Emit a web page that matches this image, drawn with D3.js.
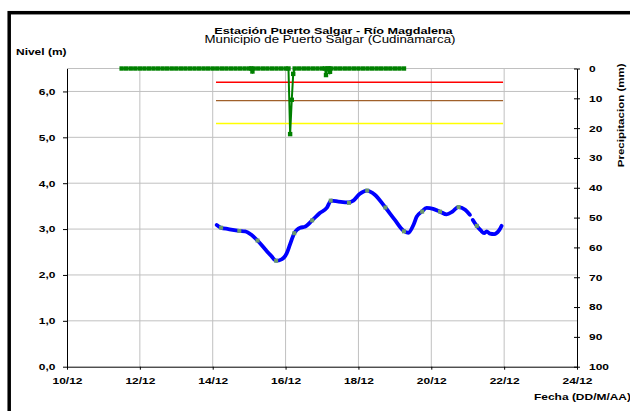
<!DOCTYPE html>
<html>
<head>
<meta charset="utf-8">
<script src="https://cdn.jsdelivr.net/npm/d3@7"></script>
<style>
body { margin: 0; background: #fff; }
svg { display: block; font-family: "Liberation Sans", Arial, sans-serif; }
</style>
</head>
<body>
<div id="chart"></div>
<script>
// ticks
var dateTicks = [10, 12, 14, 16, 18, 20, 22, 24];
var levelTicks = [0, 1, 2, 3, 4, 5, 6];
var rainTicks = [0, 10, 20, 30, 40, 50, 60, 70, 80, 90, 100];

// river level (day of December, metres) - null = gap in record
var levelDays = [14.11, 14.23, 14.43, 14.73, 14.89, 15.07, 15.23, 15.44, 15.60, 15.74, 15.89, 16.03, 16.12, 16.24,
  16.40, 16.53, 16.73, 16.94, 17.13, 17.25, 17.45, 17.72, 17.86, 18.04, 18.23, 18.45, 18.73, 19.00, 19.23, 19.37,
  19.51, 19.60, 19.74, 19.87, 20.05, 20.24, 20.42, 20.58, 20.74, 20.93, 21.06, 21.10, 21.14, 21.25, 21.36, 21.45,
  21.52, 21.61, 21.73, 21.86, 21.93];
var levelVals = [3.09, 3.03, 3.00, 2.96, 2.95, 2.87, 2.75, 2.56, 2.42, 2.31, 2.34, 2.47, 2.66, 2.91,
  3.03, 3.05, 3.19, 3.35, 3.46, 3.62, 3.60, 3.58, 3.62, 3.77, 3.84, 3.75, 3.48, 3.20, 2.97, 2.92,
  3.09, 3.27, 3.38, 3.46, 3.44, 3.38, 3.32, 3.38, 3.48, 3.42, 3.31, null, 3.20, 3.07, 2.97, 2.91,
  2.95, 2.90, 2.89, 2.97, 3.07];

// twice-daily readings
var readDays = [14.23, 14.73, 15.23, 15.74, 16.24, 16.73, 17.24, 17.74, 18.24, 18.74, 19.25, 19.75, 20.24, 20.75, 21.25];
var readVals = [3.03, 2.96, 2.75, 2.31, 2.91, 3.19, 3.62, 3.57, 3.84, 3.47, 2.95, 3.38, 3.38, 3.48, 3.07];

// precipitation (day of December, mm)
var rainDays = [11.5, 11.625, 11.75, 11.875, 12, 12.125, 12.25, 12.375, 12.5, 12.625, 12.75, 12.875,
  13, 13.125, 13.25, 13.375, 13.5, 13.625, 13.75, 13.875, 14, 14.125, 14.25, 14.375, 14.5, 14.625, 14.75, 14.875,
  15, 15.06, 15.09, 15.125, 15.25, 15.375, 15.5, 15.625, 15.75, 15.875, 16, 16.08, 16.125, 16.17, 16.21, 16.25,
  16.375, 16.5, 16.625, 16.75, 16.875, 17, 17.08, 17.11, 17.15, 17.2, 17.22, 17.25, 17.375, 17.5, 17.625, 17.75,
  17.875, 18, 18.125, 18.25, 18.375, 18.5, 18.625, 18.75, 18.875, 19, 19.125, 19.25];
var rainMm = [0, 0, 0, 0, 0, 0, 0, 0, 0, 0, 0, 0,
  0, 0, 0, 0, 0, 0, 0, 0, 0, 0, 0, 0, 0, 0, 0, 0,
  0, 0, 1.0, 0, 0, 0, 0, 0, 0, 0, 0, 0, 22, 10.5, 1.8, 0,
  0, 0, 0, 0, 0, 0, 0, 2.2, 0, 0, 1.1, 0, 0, 0, 0, 0,
  0, 0, 0, 0, 0, 0, 0, 0, 0, 0, 0, 0];

// alert levels (m)
var alertVals = [6.2, 5.8, 5.3];
var alertColors = ["#ff0000", "#a0602a", "#ffff00"];
var alertSpan = [14.09, 21.97];

var W = 630, H = 411, SX = 1.33;
var pL = 67, pR = 577, pT = 68.5, pB = 366.7;

var svg = d3.select("#chart").append("svg").attr("width", W).attr("height", H);

var x = d3.scaleLinear().domain([10, 24]).range([pL, pR]);
var yL = d3.scaleLinear().domain([0, 6.5]).range([pB, pT]);
var yR = d3.scaleLinear().domain([0, 100]).range([pT, pB]);

var comma = function(d){ return d3.format(".1f")(d).replace(".", ","); };

// grid
var grid = svg.append("g").attr("stroke", "#c0c0c0").attr("stroke-width", 1);
grid.selectAll(".h").data(levelTicks.slice(1).concat([6.5])).enter().append("line")
    .attr("x1", pL).attr("x2", pR)
    .attr("y1", function(d){ return yL(d); }).attr("y2", function(d){ return yL(d); });
grid.selectAll(".v").data(dateTicks.slice(1, -1)).enter().append("line")
    .attr("y1", pT).attr("y2", pB)
    .attr("x1", function(d){ return x(d); }).attr("x2", function(d){ return x(d); });

// alert lines
svg.selectAll(".alert").data(alertVals).enter().append("line")
    .attr("x1", x(alertSpan[0])).attr("x2", x(alertSpan[1]))
    .attr("y1", function(d){ return yL(d); }).attr("y2", function(d){ return yL(d); })
    .attr("stroke", function(d, i){ return alertColors[i]; })
    .attr("stroke-width", 1.4);

// precipitation
var rain = rainDays.map(function(d, i){ return [d, rainMm[i]]; });
svg.append("path").datum(rain)
    .attr("d", d3.line().x(function(d){ return x(d[0]); }).y(function(d){ return yR(d[1]); }))
    .attr("fill", "none").attr("stroke", "#008000").attr("stroke-width", 2);
svg.selectAll(".rp").data(rain).enter().append("rect")
    .attr("x", function(d){ return x(d[0]) - 2.2; })
    .attr("y", function(d){ return yR(d[1]) - 2.2; })
    .attr("width", 4.4).attr("height", 4.4)
    .attr("fill", "#008000");

// level
var level = levelDays.map(function(d, i){ return [d, levelVals[i]]; });
svg.append("path").datum(level)
    .attr("d", d3.line().defined(function(d){ return d[1] != null; })
        .x(function(d){ return x(d[0]); }).y(function(d){ return yL(d[1]); })
        .curve(d3.curveMonotoneX))
    .attr("fill", "none").attr("stroke", "#0000ff").attr("stroke-width", 3.8)
    .attr("stroke-linecap", "round").attr("stroke-linejoin", "round");
svg.selectAll(".lp").data(readDays).enter().append("rect")
    .attr("x", function(d){ return x(d) - 2; })
    .attr("y", function(d, i){ return yL(readVals[i]) - 2; })
    .attr("width", 4).attr("height", 4)
    .attr("fill", "#6b9b6b");

// axes
function styleAxis(g){
    g.selectAll("path, line").attr("stroke", "#000");
    g.selectAll("text").attr("font-size", 9).attr("font-weight", "bold").attr("fill", "#000")
        .attr("font-family", "'Liberation Sans', Arial, sans-serif");
}
var ax = svg.append("g").attr("transform", "translate(" + pL + ",0)")
    .call(d3.axisLeft(yL).tickValues(levelTicks).tickFormat(comma).tickSize(4).tickSizeOuter(0));
styleAxis(ax);
ax.selectAll("text").attr("x", -11.5 / SX).attr("transform", "scale(" + SX + ",1)");

var ar = svg.append("g").attr("transform", "translate(" + pR + ",0)")
    .call(d3.axisRight(yR).tickValues(rainTicks).tickSize(3).tickSizeOuter(0));
styleAxis(ar);
ar.selectAll(".tick line").attr("x1", -3);
ar.selectAll("text").attr("x", 12 / SX).attr("transform", "scale(" + SX + ",1)");

var ab = svg.append("g").attr("transform", "translate(0," + pB + ")")
    .call(d3.axisBottom(x).tickValues(dateTicks).tickFormat(function(d){ return d + "/12"; })
        .tickSize(3).tickSizeOuter(0));
styleAxis(ab);
ab.selectAll("text").attr("y", 17.8).attr("dy", 0).attr("transform", "scale(" + SX + ",1)");

// texts
function label(txt, tx, ty, size, weight, anchor, rot){
    svg.append("text")
        .attr("transform", "translate(" + tx + "," + ty + ")" + (rot ? " rotate(" + rot + ")" : "") + " scale(" + SX + ",1)")
        .attr("text-anchor", anchor).attr("font-size", size).attr("font-weight", weight)
        .attr("fill", "#000").text(txt);
}
label("Estación Puerto Salgar - Río Magdalena", 333.5, 33.5, 9.5, "bold", "middle");
label("Municipio de Puerto Salgar (Cudinamarca)", 330, 43, 10, "normal", "middle");
label("Nivel (m)", 16, 54.5, 9, "bold", "start");
label("Fecha (DD/M/AA)", 631, 400, 9, "bold", "end");
label("Precipitacion (mm)", 623.5, 115.3, 8.7, "bold", "middle", -90);

// outer frame
svg.append("rect").attr("x", 9.2).attr("y", 12.7).attr("width", 700).attr("height", 500)
    .attr("fill", "none").attr("stroke", "#000").attr("stroke-width", 3.5);
</script>
</body>
</html>
